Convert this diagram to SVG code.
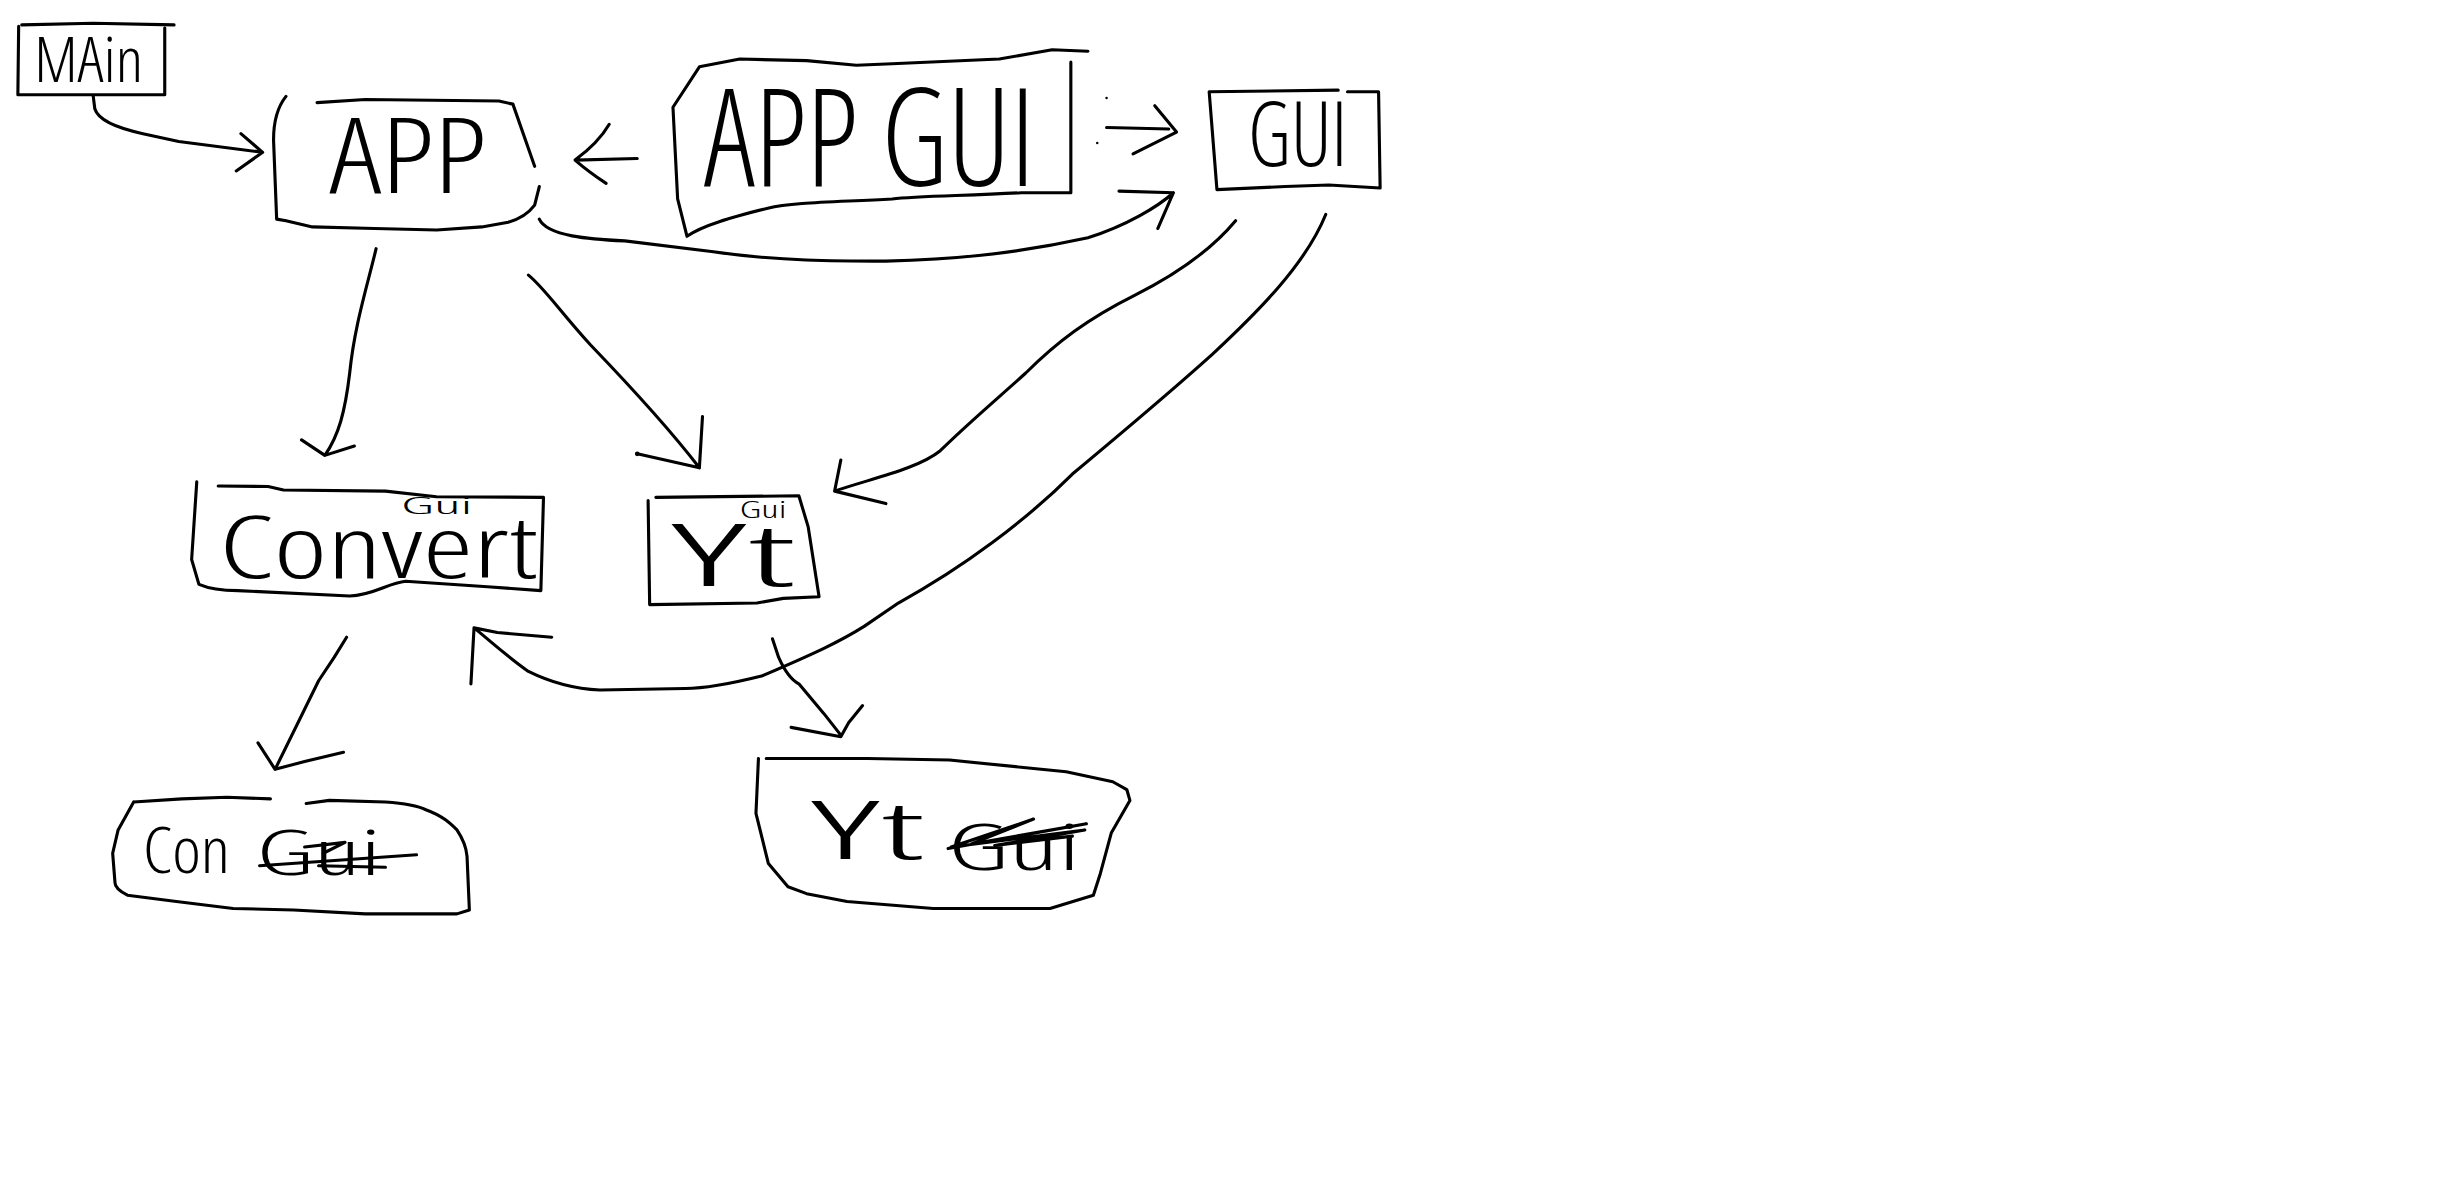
<svg xmlns="http://www.w3.org/2000/svg" width="2437" height="1181" viewBox="0 0 2437 1181">
<style>
.s{fill:none;stroke:#000;stroke-width:2;stroke-linecap:round;stroke-linejoin:round}
.t{font-family:"Open Sans","Liberation Sans Narrow","Liberation Sans",Arial,sans-serif;font-weight:300;font-stretch:condensed;fill:#000}
.d{fill:#000;stroke:none}
</style>
<rect width="2437" height="1181" fill="#fff"/>
<g transform="scale(1.5542)">
<g id="main">
<path class="s" d="M14,16 L60,15 L112,16 M12,17 L11.5,61 L106,61 L106,18"/>
<text class="t" x="22" y="53" font-size="40" textLength="70" lengthAdjust="spacingAndGlyphs">MAin</text>
</g>
<g id="app">
<path class="s" d="M184,62 Q176,72 176,90 L178,141 L184,142 M204,66 L235,64 L321,65 L330,67 L344,107 M347,120 L344,132 Q338,140 327,143 L310,146 L281,148 L241,147 L201,146 L184,142"/>
<text class="t" x="212" y="124" font-size="68" textLength="101" lengthAdjust="spacingAndGlyphs">APP</text>
</g>
<g id="appgui">
<path class="s" d="M450,43 L476,38 L519,39 L551,42 L574,41 L643,38 L677,32 L700,33 M689,40 L689,124 L657,124 C620,126 590,126 574,128 C540,130 510,130 494,134 C470,140 452,145 442,152 L436,128 L433,69 L450,43"/>
<text class="t" x="453" y="120" font-size="88" textLength="213" lengthAdjust="spacingAndGlyphs">APP GUI</text>
</g>
<g id="gui">
<path class="s" d="M778,59 L861,58 M867,59 L887,59 L888,121 L855,119 L827,120 L783,122 L778,59"/>
<text class="t" x="803" y="107" font-size="58" textLength="64" lengthAdjust="spacingAndGlyphs">GUI</text>
</g>
<g id="convert">
<path class="s" d="M126.6,310 L123.3,360 L128,376 C135,379 145,380 153,380 L225,383.5 C240,383 250,375 261,374 L313.6,377.5 L348,380 L349.7,320 L280.8,319.6 L248,316 L182.4,315.3 L172.5,313 L140.4,312.7"/>
<text class="t" x="141" y="372" font-size="56" textLength="205" lengthAdjust="spacingAndGlyphs">Convert</text>
<text class="t" x="258" y="331" font-size="15" textLength="46" lengthAdjust="spacingAndGlyphs">Gui</text>
</g>
<g id="yt">
<path class="s" d="M417,322 L418,389 L487,388 L504,385 L527,384 L520,339 L514,319 L422,320"/>
<text class="t" x="432" y="377" font-size="56" textLength="80" lengthAdjust="spacingAndGlyphs">Yt</text>
<text class="t" x="476" y="333" font-size="15" textLength="30" lengthAdjust="spacingAndGlyphs">Gui</text>
</g>
<g id="con">
<path class="s" d="M86,516 L117,514 L146,513 L174,514 M197,517 L212,515 L248,516 C262,517 270,519 274,521 C285,525 290,530 294,534 C298,540 300,545 300.5,551 L302,585.5 L294,588 L235,588 L189,585.5 L150,584.5 L113.5,580 L82,576 Q74,572 74,568 L72.5,549 L76,534 L86,516"/>
<text class="t" x="92" y="562" font-size="42" textLength="56" lengthAdjust="spacingAndGlyphs">Con</text>
<text class="t" x="165" y="563" font-size="40" textLength="80" lengthAdjust="spacingAndGlyphs">Gui</text>
<path class="s" d="M167,557 L268,550 M205,557 L248,558 M196,545 L222,542 L208,549"/>
</g>
<g id="ytgui">
<path class="s" d="M488,488 L486.4,523.4 L494.4,555.6 L507,570.6 L519,575 L545,580 L600.5,584.5 L675.6,584.5 L703.5,576 L708,562 L715,536 L727,515 L725,508 L716,503 L686,496.6 L611,489 L558,488 L493,488"/>
<text class="t" x="522" y="553" font-size="52" textLength="73" lengthAdjust="spacingAndGlyphs">Yt</text>
<text class="t" x="610" y="560" font-size="42" textLength="85" lengthAdjust="spacingAndGlyphs">Gui</text>
<path class="s" d="M610,546 L699,530 L625,543 L665,527 L612,545 L698,534 L640,544 L690,538"/>
</g>
<g id="connectors">
<path class="s" d="M60,62 L61,70 Q64,80 92,86 L115,91 L169,98 M155,86 L169,98 L152,110"/>
<path class="s" d="M410,102 L370,103 M392,80 Q385,92 370,103 Q378,110 390,118"/>
<path class="s" d="M712,82 L752,83 M743,68 L757,85 L729,99"/>
<circle class="d" cx="712" cy="63" r="0.8"/>
<circle class="d" cx="706" cy="92" r="0.8"/>
<path class="s" d="M347,141 C352,152 380,154 402,155 L459,162 C500,168 540,168 570,168 C610,167 650,164 700,153 C725,145 745,133 755,124 M720,123 L755,124 L745,147"/>
<path class="s" d="M242,160 C236,185 228,210 225,240 C222,265 218,280 209,293 M194,283 L209,293 L228,287"/>
<path class="s" d="M340,177 C350,185 360,200 380,222 C405,248 430,275 450,301 M410,292 L450,301 L452,268"/>
<circle class="d" cx="410" cy="292" r="1.5"/>
<path class="s" d="M795,142 C780,160 760,175 730,190 C700,205 680,220 660,240 C640,258 620,275 605,290 C590,302 560,308 537,316 M541,296 L537,316 L570,324"/>
<path class="s" d="M853,138 C840,170 810,200 780,228 C750,255 720,280 690,305 C660,335 620,365 578,388 L556,403 C540,413 525,420 490,435 C470,440 455,443 441,443 L386,444 C365,443 350,437 340,432 C327,423 315,412 305,404 M305,404 L303,440 M305,404 L320,407 L355,410"/>
<path class="s" d="M223,410 L215,423 L205,438 L177,495 M166,478 L177,495 L196,490 L221,484"/>
<path class="s" d="M497,411 L501,423 C505,432 510,438 514,440 L530,459 L541,473 M509,468 L541,474 L546,465 L555,454"/>
</g>
</g>
</svg>
